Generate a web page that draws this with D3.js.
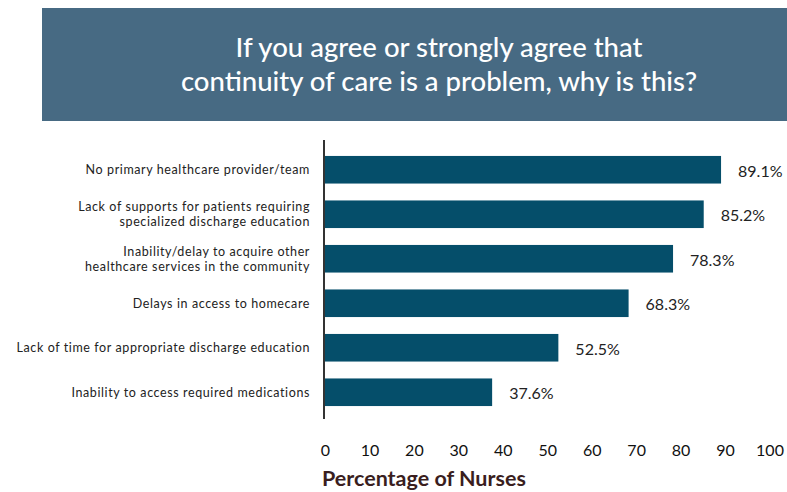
<!DOCTYPE html>
<html>
<head>
<meta charset="utf-8">
<script src="https://cdn.jsdelivr.net/npm/d3@7"></script>
<style>
  html, body { margin: 0; padding: 0; background: #fff; }
  svg { display: block; }
</style>
</head>
<body>
<svg id="chart" width="787" height="492"></svg>
<script>
// Reasons nurses give for continuity-of-care problems
const categories = [
  ["No primary healthcare provider/team"],
  ["Lack of supports for patients requiring", "specialized discharge education"],
  ["Inability/delay to acquire other", "healthcare services in the community"],
  ["Delays in access to homecare"],
  ["Lack of time for appropriate discharge education"],
  ["Inability to access required medications"]
];
const values = [89.1, 85.2, 78.3, 68.3, 52.5, 37.6];
const tickValues = [0, 10, 20, 30, 40, 50, 60, 70, 80, 90, 100];
const titleLines = ["If you agree or strongly agree that", "continuity of care is a problem, why is this?"];
const axisTitle = "Percentage of Nurses";

const font = "Lato, 'Open Sans', sans-serif";
const svg = d3.select("#chart");

// Title banner
svg.append("rect")
  .attr("x", 42).attr("y", 8)
  .attr("width", 745).attr("height", 113)
  .attr("fill", "#476a83");

svg.append("g").selectAll("text")
  .data(titleLines)
  .join("text")
  .attr("x", 439)
  .attr("y", (d, i) => 57 + i * 34)
  .attr("text-anchor", "middle")
  .attr("fill", "#fff")
  .attr("font-family", font)
  .attr("font-size", 27.5)
  .attr("font-weight", 500)
  .text(d => d);

const idx = d3.range(values.length);
const x = d3.scaleLinear().domain([0, 100]).range([325, 769.5]);
const y = d3.scaleBand().domain(idx).range([147.5, 414.5]).paddingInner(0.38).paddingOuter(0.19);

// Bars
svg.append("g").selectAll("rect")
  .data(idx)
  .join("rect")
  .attr("x", x(0))
  .attr("y", i => y(i))
  .attr("width", i => x(values[i]) - x(0))
  .attr("height", y.bandwidth())
  .attr("fill", "#054e6a");

// Value labels
svg.append("g").selectAll("text")
  .data(idx)
  .join("text")
  .attr("x", i => x(values[i]) + 17)
  .attr("y", i => y(i) + y.bandwidth() / 2 + 3)
  .attr("dominant-baseline", "middle")
  .attr("fill", "#222")
  .attr("font-family", font)
  .attr("font-size", 16)
  .text(i => values[i].toFixed(1) + "%");

// Category labels, one text element per line
const lh = 15;
const catLines = idx.flatMap(i => categories[i].map((t, k) => ({
  t,
  cy: y(i) + y.bandwidth() / 2 + (k - (categories[i].length - 1) / 2) * lh
})));
svg.append("g").selectAll("text")
  .data(catLines)
  .join("text")
  .attr("x", 310)
  .attr("y", d => d.cy)
  .attr("dy", "0.35em")
  .attr("text-anchor", "end")
  .attr("fill", "#222")
  .attr("font-family", font)
  .attr("font-size", 12.5)
  .attr("letter-spacing", 0.6)
  .text(d => d.t);

// Y axis line
svg.append("line")
  .attr("x1", 324).attr("x2", 324)
  .attr("y1", 140).attr("y2", 419)
  .attr("stroke", "#333")
  .attr("stroke-width", 2);

// X axis tick labels
const xAxis = d3.axisBottom(x).tickValues(tickValues).tickSize(0).tickPadding(0);
const gx = svg.append("g").attr("transform", "translate(0,445)").call(xAxis);
gx.select(".domain").remove();
gx.selectAll("text")
  .attr("font-family", font)
  .attr("font-size", 16)
  .attr("fill", "#111");

// Axis title
svg.append("text")
  .attr("x", 322)
  .attr("y", 486)
  .attr("fill", "#3a1e1e")
  .attr("font-family", font)
  .attr("font-size", 21.5)
  .attr("font-weight", 700)
  .text(axisTitle);
</script>
</body>
</html>
